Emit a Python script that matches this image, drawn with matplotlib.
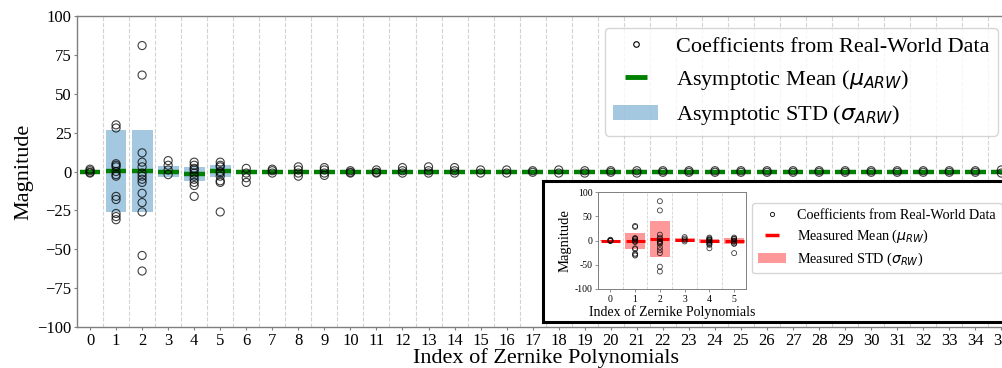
import numpy as np
import matplotlib
matplotlib.use("Agg")
import matplotlib.pyplot as plt
from matplotlib.lines import Line2D
from matplotlib.patches import Patch
from matplotlib.ticker import FuncFormatter

plt.rcParams['font.family'] = ['Liberation Serif', 'DejaVu Serif']
plt.rcParams['mathtext.fontset'] = 'dejavusans'

# ---------------- data ----------------
indices = list(range(36))
x_ticks = list(range(36))
y_ticks = [-100, -75, -50, -25, 0, 25, 50, 75, 100]
inset_y_ticks = [-100, -50, 0, 50, 100]

coefficients = [
    [1.5, 0.5, -0.5, -1.0],                                            # 0
    [30, 28, 5, 4, 3, 0, -2, -3, -16, -18, -27, -29, -31],             # 1
    [81, 62, 12, 6, 3, -1, -3, -5, -7, -14, -20, -26, -54, -64],       # 2
    [7, 4, 1, -2],                                                     # 3
    [6, 4, 2, 1, -1, -3, -5, -7, -9, -16],                             # 4
    [6, 4, 3, 0, -1, -3, -6, -7, -26],                                 # 5
    [2, -1, -4, -7],                                                   # 6
    [1.5, 0.5, -1],                                                    # 7
    [3, 1, -1, -3],                                                    # 8
    [2.5, 1, -1, -2.5],                                                # 9
    [0.5, -0.5, -1],                                                   # 10
    [1, -0.5, -1],                                                     # 11
    [2.5, 0.5, -1],                                                    # 12
    [3, 0.5, -1],                                                      # 13
    [2.5, 0.5, -1],                                                    # 14
    [1, -1],                                                           # 15
    [1, -1],                                                           # 16
    [0.5, -0.5],                                                       # 17
    [1, -1],                                                           # 18
    [0.5, -1],                                                         # 19
    [0.5, -0.5],                                                       # 20
    [0.5, -1],                                                         # 21
    [0.5, -0.5],                                                       # 22
    [0.5, -0.5],                                                       # 23
    [0.5, -0.5],                                                       # 24
    [0.5, -0.5],                                                       # 25
    [0.5, -0.5],                                                       # 26
    [0.5, -0.5],                                                       # 27
    [0.5, -0.5],                                                       # 28
    [0.5, -0.5],                                                       # 29
    [0.5, -0.5],                                                       # 30
    [0.5, -0.5],                                                       # 31
    [0.5, -0.5],                                                       # 32
    [0.5, -0.5],                                                       # 33
    [0.5, -0.5],                                                       # 34
    [1, -1],                                                           # 35
]

asym_mean = [0, 0.3, 0.3, 0, -1.7, 0.3, 0, 0, 0, 0, 0, 0, 0, 0, 0, 0, 0, 0,
             0, 0, 0, 0, 0, 0, 0, 0, 0, 0, 0, 0, 0, 0, 0, 0, 0, 0]
asym_std = [1.0, 26.4, 26.4, 3.7, 4.4, 3.7, 1.0, 0.8, 1.0, 1.0, 0.8, 0.8, 0.8, 0.8,
            0.8, 0.6, 0.6, 0.5, 0.5, 0.5, 0.5, 0.5, 0.5, 0.5, 0.5, 0.5, 0.5, 0.5,
            0.5, 0.5, 0.5, 0.5, 0.5, 0.5, 0.5, 0.5]

inset_indices = [0, 1, 2, 3, 4, 5]
measured_mean = [0, -0.8, 2.7, 1.0, -1.5, -1.3]
measured_std = [1.0, 16.8, 37.4, 3.5, 4.5, 5.8]

# ---------------- figure ----------------
W, H = 1003, 368
fig = plt.figure(figsize=(W / 100, H / 100), dpi=100)

spine_col = '#7f7f7f'
grid_col = '#d3d3d3'

ax = fig.add_axes([77 / W, 41 / H, 937.4 / W, 311 / H])
idx = np.array(indices)
am = np.array(asym_mean)
asd = np.array(asym_std)
for k in range(len(indices)):
    ax.axvline(k + 0.5, color=grid_col, ls='--', lw=0.8, zorder=0)
ax.bar(idx, 2 * asd, bottom=am - asd, width=0.8, color='tab:blue', alpha=0.4,
       zorder=1, linewidth=0)
ax.hlines(am, idx - 0.4, idx + 0.4, color='green', lw=3.2, zorder=2)
for i, vals in zip(indices, coefficients):
    ax.scatter([i] * len(vals), vals, s=34, facecolors='none', edgecolors='black',
               linewidths=0.8, alpha=0.75, zorder=3)
ax.set_xlim(-0.5, 35.5)
ax.set_ylim(-100, 100)
ax.set_xticks(x_ticks)
ax.set_yticks(y_ticks)
ax.tick_params(labelsize=12, length=2.5, width=0.8, color=spine_col, pad=1.5)
for s in ax.spines.values():
    s.set_color(spine_col)
    s.set_linewidth(1.0)
ax.set_xlabel('Index of Zernike Polynomials', fontsize=16, labelpad=0)
ax.set_ylabel('Magnitude', fontsize=16)
ax.yaxis.set_label_coords(-0.047, 0.5)

handles = [
    Line2D([], [], marker='o', ls='', mfc='none', mec='black', ms=4, mew=0.8),
    Line2D([], [], marker='_', ls='', color='green', ms=16, mew=3.5),
    Patch(facecolor='tab:blue', alpha=0.4, edgecolor='none'),
]
labels = ['Coefficients from Real-World Data',
          r'Asymptotic Mean ($\mu_{ARW}$)',
          r'Asymptotic STD ($\sigma_{ARW}$)']
ax.legend(handles, labels, fontsize=16, loc='upper left',
          bbox_to_anchor=(605 / W, 1 - 28 / H), bbox_transform=fig.transFigure,
          borderaxespad=0, labelspacing=0.5, borderpad=0.38, handlelength=2.0)

# ---------------- inset box ----------------
box = fig.add_axes([543 / W, 46 / H, 470 / W, 141 / H])
box.set_xticks([])
box.set_yticks([])
box.set_facecolor('white')
for s in box.spines.values():
    s.set_color('black')
    s.set_linewidth(2.2)

axi = fig.add_axes([598 / W, 79 / H, 148.5 / W, 97 / H])
ii = np.array(inset_indices)
mm = np.array(measured_mean)
ms_ = np.array(measured_std)
for k in range(len(inset_indices)):
    axi.axvline(k + 0.5, color=grid_col, ls='--', lw=0.6, zorder=0)
axi.bar(ii, 2 * ms_, bottom=mm - ms_, width=0.8, color='red', alpha=0.4,
        zorder=1, linewidth=0)
axi.hlines(mm, ii - 0.38, ii + 0.38, color='red', lw=2.2, zorder=2)
for i in inset_indices:
    vals = coefficients[i]
    axi.scatter([i] * len(vals), vals, s=13, facecolors='none', edgecolors='black',
                linewidths=0.6, alpha=0.75, zorder=3)
axi.set_xlim(-0.5, 5.5)
axi.set_ylim(-100, 100)
axi.set_xticks(inset_indices)
axi.set_yticks(inset_y_ticks)
axi.yaxis.set_major_formatter(FuncFormatter(lambda v, p: f'{int(v)}'))
axi.tick_params(labelsize=7, length=2, width=0.6, color=spine_col, pad=2)
for s in axi.spines.values():
    s.set_color(spine_col)
    s.set_linewidth(0.7)
axi.set_xlabel('Index of Zernike Polynomials', fontsize=10, labelpad=1)
axi.set_ylabel('Magnitude', fontsize=10.5, labelpad=2)

handles_i = [
    Line2D([], [], marker='o', ls='', mfc='none', mec='black', ms=3, mew=0.6),
    Line2D([], [], marker='_', ls='', color='red', ms=10, mew=2.5),
    Patch(facecolor='red', alpha=0.4, edgecolor='none'),
]
labels_i = ['Coefficients from Real-World Data',
            r'Measured Mean ($\mu_{RW}$)',
            r'Measured STD ($\sigma_{RW}$)']
box.legend(handles_i, labels_i, fontsize=10.2, loc='upper left',
           bbox_to_anchor=(752 / W, 1 - 203 / H), bbox_transform=fig.transFigure,
           borderaxespad=0, labelspacing=0.4, borderpad=0.4, handlelength=2.0)

fig.savefig('out.png', dpi=100)
